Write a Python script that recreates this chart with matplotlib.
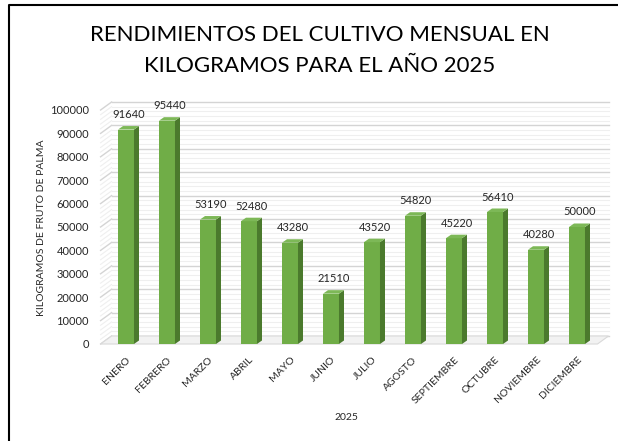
import matplotlib.pyplot as plt
from matplotlib.patches import Polygon
from matplotlib.lines import Line2D

months = ["ENERO", "FEBRERO", "MARZO", "ABRIL", "MAYO", "JUNIO", "JULIO",
          "AGOSTO", "SEPTIEMBRE", "OCTUBRE", "NOVIEMBRE", "DICIEMBRE"]
kilos = [91640, 95440, 53190, 52480, 43280, 21510, 43520,
         54820, 45220, 56410, 40280, 50000]
y_ticks = list(range(0, 100001, 10000))

plt.rcParams['font.family'] = ['Lato', 'DejaVu Sans']

fig = plt.figure(figsize=(6.18, 4.41), dpi=100)
ax = fig.add_axes([105.5 / 618, 97 / 441, 492 / 618, 234 / 441])
ax.set_xlim(-0.5, 11.5)
ax.set_ylim(0, 100000)

# size of one pixel in data units, for the fake 3D offsets
px_x = 1 / 41.0
px_y = 100000 / 234.0
wall_dx, wall_dy = 11 * px_x, 8 * px_y
bar_dx, bar_dy = 5 * px_x, 3.5 * px_y
x0 = -0.62

# gridlines: minor every 2000, major every 10000
for v in range(0, 100001, 2000):
    major = v % 10000 == 0
    col = "#d4d4d4" if major else "#efefef"
    lw = 1.0 if major else 0.8
    ax.plot([x0 + wall_dx, 11.5 + wall_dx], [v + wall_dy, v + wall_dy],
            color=col, lw=lw, clip_on=False, zorder=1)
    ax.plot([x0, x0 + wall_dx], [v, v + wall_dy],
            color=col, lw=lw, clip_on=False, zorder=1)

# floor
floor = Polygon([(x0, 0), (11.5, 0), (11.5 + wall_dx, wall_dy),
                 (x0 + wall_dx, wall_dy)], closed=True,
                facecolor="#f2f2f2", edgecolor="#d9d9d9", lw=0.8,
                clip_on=False, zorder=1.5)
ax.add_patch(floor)

w = 0.39
for i, v in enumerate(kilos):
    left, right = i - w / 2, i + w / 2
    ax.add_patch(Polygon([(left, 0), (right, 0), (right, v), (left, v)],
                         closed=True, facecolor="#70AD47", edgecolor="none",
                         zorder=3, clip_on=False))
    ax.add_patch(Polygon([(right, 0), (right + bar_dx, bar_dy),
                          (right + bar_dx, v + bar_dy), (right, v)],
                         closed=True, facecolor="#4B7A2D", edgecolor="none",
                         zorder=3, clip_on=False))
    ax.add_patch(Polygon([(left, v), (right, v), (right + bar_dx, v + bar_dy),
                          (left + bar_dx, v + bar_dy)],
                         closed=True, facecolor="#7DB857", edgecolor="none",
                         zorder=3, clip_on=False))
    ax.text(i + bar_dx / 2, v + bar_dy + 6 * px_y, str(v), ha="center",
            va="bottom", fontsize=8, color="#262626", zorder=4)

for s in ax.spines.values():
    s.set_visible(False)
ax.set_xticks(range(len(months)))
ax.set_xticklabels(months, rotation=45, ha="right", rotation_mode="anchor",
                   fontsize=7.5, color="#262626")
ax.set_yticks(y_ticks)
ax.set_yticklabels([str(t) for t in y_ticks], fontsize=8, color="#262626")
ax.tick_params(axis="both", length=0)
ax.tick_params(axis="y", pad=12)
ax.tick_params(axis="x", pad=8)

fig.text(42 / 618, 1 - 228 / 441, "KILOGRAMOS DE FRUTO DE PALMA", rotation=90,
         ha="center", va="center", fontsize=7.5, color="#262626")
fig.text(346 / 618, 1 - 417 / 441, "2025", ha="center", va="center",
         fontsize=7.5, color="#262626")
fig.text(320 / 618, 1 - 35 / 441, "RENDIMIENTOS DEL CULTIVO MENSUAL EN",
         ha="center", va="center", fontsize=16, color="#000000")
fig.text(320 / 618, 1 - 66 / 441, "KILOGRAMOS PARA EL AÑO 2025",
         ha="center", va="center", fontsize=16, color="#000000")

# chart border (left and top edges visible)
fig.add_artist(Line2D([9 / 618, 9 / 618, 1], [0, 1 - 5 / 441, 1 - 5 / 441],
                      transform=fig.transFigure, color="black", lw=1.5))

fig.savefig("out.png", dpi=100)
